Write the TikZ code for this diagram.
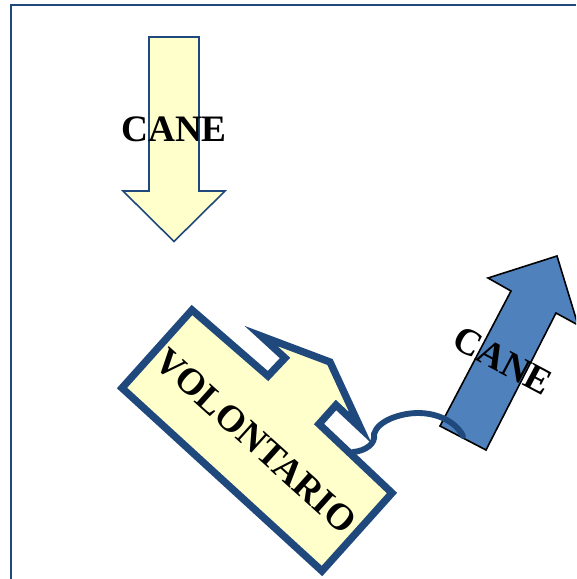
\documentclass[tikz,border=0pt]{standalone}
\usepackage{fontspec}
\setmainfont{Liberation Serif}
\definecolor{edgeblue}{HTML}{1F497D}
\definecolor{paleyellow}{HTML}{FFFFCC}
\definecolor{midblue}{HTML}{4F81BD}
\tikzset{
  lbl/.style={font=\fontsize{28pt}{30pt}\selectfont\bfseries,inner sep=0pt,text=black},
  vollbl/.style={font=\fontsize{28pt}{30pt}\selectfont\bfseries,inner sep=0pt,text=black},
  yellowarrow/.style={draw=edgeblue,fill=paleyellow,line width=1.2pt,line join=miter},
  bluearrow/.style={draw=black,fill=midblue,line width=1.2pt,line join=miter},
  volshape/.style={draw=edgeblue,fill=paleyellow,line width=5.5pt,line join=miter,miter limit=10},
  leash/.style={draw=edgeblue,line width=4.4pt,line cap=round}
}
\begin{document}
\begin{tikzpicture}[x=0.75pt,y=-0.75pt]
\useasboundingbox (0,0) rectangle (576,579);
\clip (0,0) rectangle (576,579);
\draw[edgeblue,line width=1.4pt] (11,579) -- (11,5) -- (576,5);
% yellow arrow
\draw[yellowarrow] (149,37) -- (199,37) -- (199,191) -- (225,191) -- (174,241.5) -- (123,191) -- (149,191) -- cycle;
\node[lbl] (caneA) at (174,129) {CANE};
% blue arrow
\draw[bluearrow] (440,426) -- (486,450) -- (556,313) -- (578,325) -- (557,256) -- (488,278) -- (511,291) -- cycle;
\node[lbl,rotate=-28] (caneB) at (503,361) {CANE};
% volunteer
\draw[volshape] (192,310) -- (268,376) -- (285,358) -- (261,336) -- (330,362) -- (360.5,428) -- (336,405) -- (319,424) -- (392,493) -- (322,571) -- (122,388) -- cycle;
\node[vollbl,rotate=-42] (vol) at (256,441) {VOLONTARIO};
% leash
\coordinate (hand) at (353,452);
\coordinate (dog) at (463,436);
\draw[leash] (hand) .. controls (365,451) and (376,444) .. (374,434) .. controls (378,420) and (402,413) .. (418,413) .. controls (438,413) and (456,422) .. (dog);
\end{tikzpicture}
\end{document}
